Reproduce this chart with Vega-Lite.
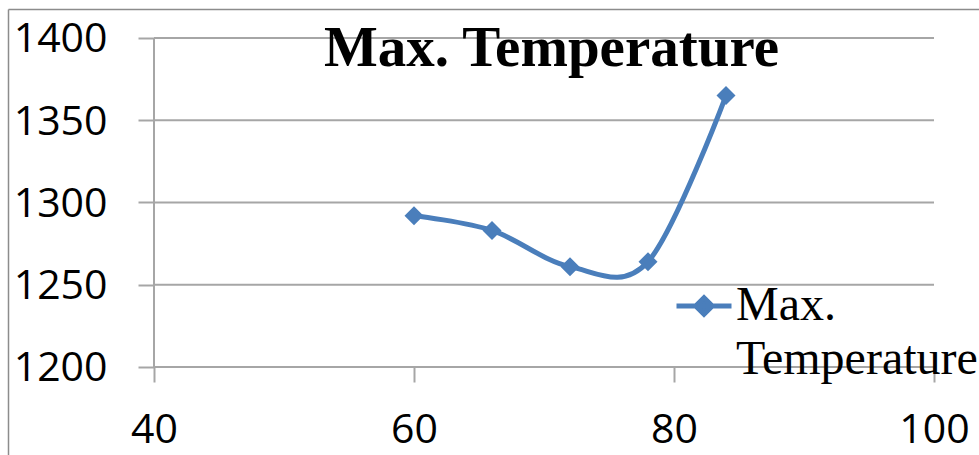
{
  "$schema": "https://vega.github.io/schema/vega-lite/v6.json",
  "width": 971,
  "height": 446,
  "autosize": {"type": "none"},
  "padding": {"left": 8, "top": 9, "right": 0, "bottom": 0},
  "background": "white",
  "title": {
    "text": "Max. Temperature",
    "font": "Liberation Serif",
    "fontSize": 57,
    "fontWeight": "bold",
    "color": "black",
    "anchor": "middle",
    "frame": "group",
    "baseline": "alphabetic",
    "dx": 58,
    "dy": 114,
    "offset": 0
  },
  "config": {
    "view": {"stroke": null}
  },
  "resolve": {"axis": {"x": "independent", "y": "independent"}},
  "datasets": {
    "temps": [
      {"x": 60, "temperature": 1292},
      {"x": 66, "temperature": 1283},
      {"x": 72, "temperature": 1261},
      {"x": 78, "temperature": 1264},
      {"x": 84, "temperature": 1365}
    ],
    "grid": [
      {"level": 1200},
      {"level": 1250},
      {"level": 1300},
      {"level": 1350},
      {"level": 1400}
    ]
  },
  "layer": [
    {
      "data": {"name": "grid"},
      "mark": {"type": "rule", "color": "#a6a6a6", "strokeWidth": 2},
      "encoding": {
        "y": {
          "field": "level",
          "type": "quantitative",
          "scale": {"domain": [1146.504, 1417.629], "nice": false, "zero": false},
          "axis": {"orient": "right", "offset": -971, "title": null, "labels": false, "ticks": false, "grid": false, "domain": true, "domainColor": "#8c8c8c", "domainWidth": 1.5}
        },
        "x": {
          "datum": 40,
          "type": "quantitative",
          "scale": {"domain": [28.7692, 103.4615], "nice": false, "zero": false},
          "axis": null
        },
        "x2": {"datum": 100}
      }
    },
    {
      "data": {"values": [{}]},
      "mark": {"type": "rule", "color": "#a6a6a6", "strokeWidth": 2},
      "encoding": {
        "x": {"datum": 40, "type": "quantitative", "axis": null},
        "y": {"datum": 1200, "type": "quantitative", "axis": null},
        "y2": {"datum": 1400}
      }
    },
    {
      "data": {"name": "temps"},
      "mark": {"type": "line", "interpolate": "cardinal", "strokeWidth": 5},
      "encoding": {
        "x": {
          "field": "x",
          "type": "quantitative",
          "scale": {"domain": [28.7692, 103.4615], "nice": false, "zero": false},
          "axis": {
            "values": [40, 60, 80, 100],
            "format": "d",
            "title": null,
            "orient": "bottom",
            "offset": -88,
            "domain": false,
            "grid": false,
            "ticks": true,
            "tickSize": 15,
            "tickColor": "#a6a6a6",
            "tickWidth": 2,
            "labelFont": "Open Sans",
            "labelFontSize": 41,
            "labelColor": "black",
            "labelPadding": 28,
            "labelFlush": false,
            "labelOverlap": false
          }
        },
        "y": {
          "field": "temperature",
          "type": "quantitative",
          "scale": {"domain": [1146.504, 1417.629], "nice": false, "zero": false},
          "axis": {
            "values": [1200, 1250, 1300, 1350, 1400],
            "format": "d",
            "title": null,
            "orient": "left",
            "offset": -146,
            "domain": false,
            "grid": false,
            "tickSize": 16,
            "tickColor": "#a6a6a6",
            "tickWidth": 2,
            "labelFont": "Open Sans",
            "labelFontSize": 41,
            "labelColor": "black",
            "labelPadding": 31,
            "labelOffset": 2,
            "labelFlush": false,
            "labelOverlap": false
          }
        },
        "color": {
          "datum": "Max. Temperature",
          "type": "nominal",
          "scale": {"range": ["#4a7ebb"]},
          "legend": {
            "title": null,
            "orient": "none",
            "legendX": 666,
            "legendY": 267,
            "padding": 0,
            "symbolType": "M-1,0L1,0M0,-0.3L0.3,0L0,0.3L-0.3,0Z",
            "symbolSize": 3025,
            "symbolStrokeColor": "#4a7ebb",
            "symbolFillColor": "#4a7ebb",
            "symbolStrokeWidth": 5,
            "labelFont": "Liberation Serif",
            "labelFontSize": 48,
            "labelColor": "black",
            "labelLimit": 400,
            "labelOffset": 2,
            "labelBaseline": "middle",
            "labelExpr": "['Max.', 'Temperature']",
            "encode": {
              "symbols": {"update": {"fill": {"value": "#4a7ebb"}, "stroke": {"value": "#4a7ebb"}}},
              "labels": {"update": {"lineHeight": {"value": 54}}}
            }
          }
        }
      }
    },
    {
      "data": {"name": "temps"},
      "mark": {"type": "point", "shape": "diamond", "filled": true, "size": 361, "color": "#4a7ebb", "opacity": 1},
      "encoding": {
        "x": {
          "field": "x",
          "type": "quantitative",
          "axis": {"orient": "top", "offset": 0, "title": null, "labels": false, "ticks": false, "grid": false, "domain": true, "domainColor": "#8c8c8c", "domainWidth": 1.5}
        },
        "y": {"field": "temperature", "type": "quantitative", "axis": null}
      }
    }
  ]
}
